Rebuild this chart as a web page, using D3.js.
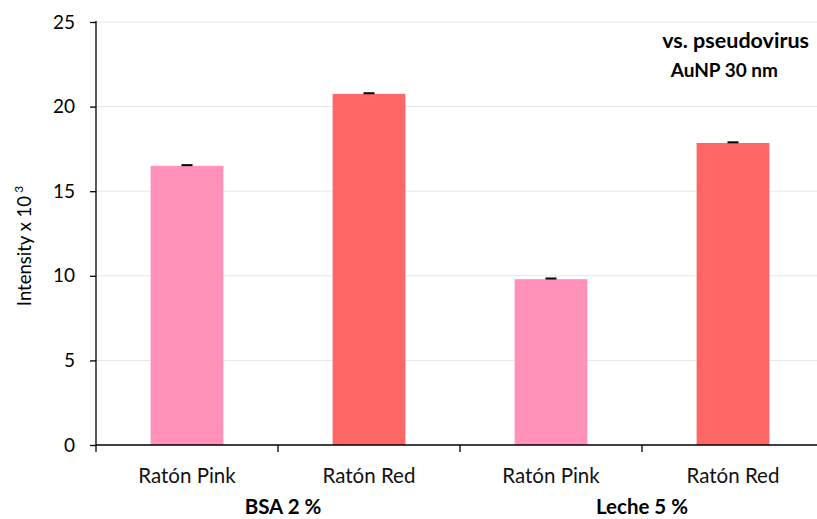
<!DOCTYPE html>
<html>
<head>
<meta charset="utf-8">
<script src="https://cdn.jsdelivr.net/npm/d3@7"></script>
<style>
  html, body { margin: 0; padding: 0; background: #fff; }
  svg { display: block; font-family: Lato, "Open Sans", sans-serif; }
</style>
</head>
<body>
<svg id="chart" width="817" height="519"></svg>
<script>
// Intensity readings (x 10^3) per mouse strain and blocking buffer
const groups = ["BSA 2 %", "Leche 5 %"];
const categories = ["Ratón Pink", "Ratón Red", "Ratón Pink", "Ratón Red"];
const values = [16.5, 20.75, 9.8, 17.85];
const errors = [0.04, 0.04, 0.04, 0.04];
const barColors = ["#ff91bb", "#ff6666", "#ff91bb", "#ff6666"];
const yTicks = [0, 5, 10, 15, 20, 25];

const svg = d3.select("#chart");
const plotLeft = 96, plotRight = 824, plotTop = 22, plotBottom = 445;

const x = d3.scaleBand()
  .domain(d3.range(categories.length))
  .range([plotLeft, plotRight])
  .paddingInner(0.6)
  .paddingOuter(0.3);
const xOuter = d3.scaleLinear().domain([0, categories.length]).range([plotLeft, plotRight]);
const y = d3.scaleLinear().domain([0, 25]).range([plotBottom, plotTop]);

// horizontal gridlines
svg.append("g")
  .selectAll("line")
  .data(yTicks.filter(d => d > 0))
  .join("line")
  .attr("x1", plotLeft).attr("x2", plotRight)
  .attr("y1", d => y(d)).attr("y2", d => y(d))
  .attr("stroke", "#e6e6e6").attr("stroke-width", 1);

// bars
svg.append("g")
  .selectAll("rect")
  .data(values)
  .join("rect")
  .attr("x", (d, i) => x(i))
  .attr("width", x.bandwidth())
  .attr("y", d => y(d))
  .attr("height", d => y(0) - y(d))
  .attr("fill", (d, i) => barColors[i]);

// error caps
const eb = svg.append("g").attr("stroke", "#000").attr("stroke-width", 2);
values.forEach((v, i) => {
  const cx = x(i) + x.bandwidth() / 2;
  eb.append("line").attr("x1", cx - 5.5).attr("x2", cx + 5.5)
    .attr("y1", y(v + errors[i])).attr("y2", y(v + errors[i]));
  eb.append("line").attr("x1", cx).attr("x2", cx)
    .attr("y1", y(v + errors[i])).attr("y2", y(v)).attr("stroke-width", 1);
});

// y axis
const yAxis = svg.append("g")
  .attr("transform", `translate(${plotLeft},0)`)
  .call(d3.axisLeft(y).tickValues(yTicks).tickSize(6).tickPadding(15).tickFormat(d3.format("d")));
yAxis.select(".domain").attr("stroke", "#000").attr("stroke-width", 1.3).attr("d", `M0,${plotTop - 1}V${plotBottom}`);
yAxis.selectAll(".tick line").attr("stroke", "#000").attr("stroke-width", 1.3);
yAxis.selectAll(".tick text").attr("font-size", 19).attr("fill", "#000")
  .attr("font-family", "Lato, 'Open Sans', sans-serif");

// x axis with boundary ticks between categories
const xa = svg.append("g");
xa.append("line").attr("x1", plotLeft).attr("x2", plotRight)
  .attr("y1", plotBottom).attr("y2", plotBottom).attr("stroke", "#000").attr("stroke-width", 1.3);
xa.selectAll("line.tk")
  .data(d3.range(categories.length + 1))
  .join("line").attr("class", "tk")
  .attr("x1", d => xOuter(d)).attr("x2", d => xOuter(d))
  .attr("y1", plotBottom).attr("y2", plotBottom + 7)
  .attr("stroke", "#000").attr("stroke-width", 1.3);

// category labels
svg.append("g")
  .selectAll("text")
  .data(categories)
  .join("text")
  .attr("x", (d, i) => x(i) + x.bandwidth() / 2)
  .attr("y", 483)
  .attr("text-anchor", "middle")
  .attr("font-size", 20.5)
  .attr("fill", "#111")
  .text(d => d);

// group labels
svg.append("g")
  .selectAll("text")
  .data(groups)
  .join("text")
  .attr("x", (d, i) => (xOuter(i * 2) + xOuter(i * 2 + 2)) / 2 + (i === 0 ? 5 : 0))
  .attr("y", 514)
  .attr("text-anchor", "middle")
  .attr("font-size", 20.5)
  .attr("font-weight", "bold")
  .attr("fill", "#000")
  .text(d => d);

// y axis title
const yt = svg.append("text")
  .attr("transform", "translate(31,246) rotate(-90)")
  .attr("text-anchor", "middle")
  .attr("font-size", 18.5)
  .attr("fill", "#000");
yt.append("tspan").text("Intensity  x 10");
yt.append("tspan").attr("dy", -8).attr("font-size", 12).text(" 3");

// annotation
svg.append("text").attr("x", 809).attr("y", 48).attr("text-anchor", "end")
  .attr("font-size", 21.5).attr("font-weight", "bold").attr("fill", "#000").text("vs. pseudovirus");
svg.append("text").attr("x", 778).attr("y", 77).attr("text-anchor", "end")
  .attr("font-size", 19).attr("font-weight", "bold").attr("fill", "#000").text("AuNP 30 nm");
</script>
</body>
</html>
